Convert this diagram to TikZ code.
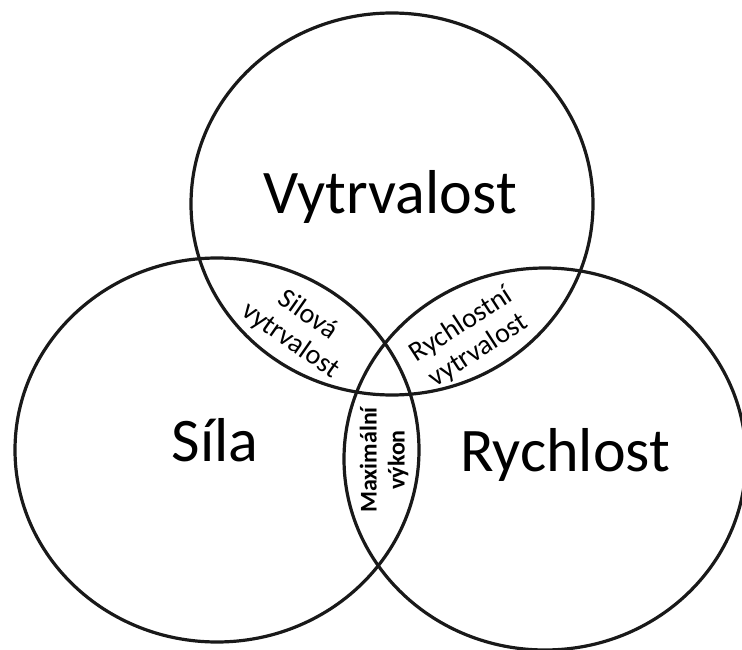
\documentclass[tikz,border=0pt]{standalone}
\usepackage{fontspec}
\setmainfont{Carlito}
\begin{document}
\begin{tikzpicture}[x=1pt,y=-1pt,
  ring/.style={line width=3.2pt, draw=black!90},
  big/.style={font=\fontsize{62}{74}\selectfont, anchor=base, inner sep=0pt},
  small/.style={font=\fontsize{28}{31}\selectfont, align=center, inner sep=0pt},
  smallbold/.style={font=\bfseries\fontsize{24}{28}\selectfont, align=center, inner sep=0pt}]
  \useasboundingbox (0,0) rectangle (742,650);
  % the three sets
  \draw[ring] (392,204) ellipse [x radius=201pt, y radius=191pt];
  \draw[ring] (217,450) ellipse [x radius=202pt, y radius=192pt];
  \draw[ring] (545,459) ellipse [x radius=201pt, y radius=191pt];
  % set names
  \node[big] (vytr) at (390,214) {Vytrvalost};
  \node[big] (sila) at (215,461) {Síla};
  \node[big] (rych) at (565,471) {Rychlost};
  % pairwise and triple overlaps
  \node[small, rotate=-35] (silvyt) at (299,328) {Silová\\vytrvalost};
  \node[small, rotate=33] (rychvyt) at (470,338) {Rychlostní\\vytrvalost};
  \node[smallbold, rotate=90] (maxvyk) at (384,460) {Maximální\\výkon};
\end{tikzpicture}
\end{document}
